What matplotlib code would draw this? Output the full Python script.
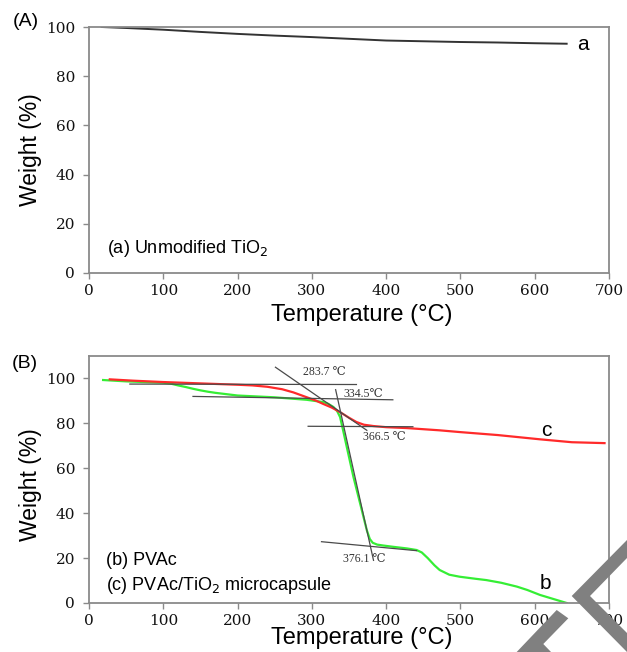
import matplotlib
matplotlib.use("Agg")
import matplotlib.pyplot as plt
from matplotlib.patches import Polygon

# ---------------- data ----------------
temp_a = [17, 50, 100, 150, 200, 250, 300, 350, 400, 450, 500, 550, 600, 643]
weight_a = [100, 99.6, 98.9, 98.0, 97.2, 96.5, 95.9, 95.2, 94.5, 94.2, 93.9, 93.7, 93.4, 93.2]

temp_c = [28, 60, 100, 150, 200, 220, 240, 260, 275, 290, 305, 315, 327, 338, 350, 360,
          370, 383, 400, 428, 472, 500, 550, 607, 650, 694]
weight_c = [99.6, 99.0, 98.4, 97.8, 97.2, 96.9, 96.3, 95.2, 93.8, 92.0, 90.2, 88.7, 87.0,
            85.0, 82.5, 80.6, 79.4, 78.8, 78.3, 77.9, 76.9, 76.1, 74.8, 72.9, 71.6, 71.2]

temp_b = [19, 50, 100, 110, 120, 130, 140, 150, 160, 170, 180, 200, 250, 293, 315, 322,
          329, 334, 338, 342, 347, 356, 365, 374, 378, 382, 388, 396, 410, 428, 441, 448,
          456, 465, 472, 485, 499, 520, 535, 555, 576, 590, 607, 625, 643]
weight_b = [99.3, 98.7, 98.1, 97.7, 96.9, 96.2, 95.4, 94.7, 94.1, 93.6, 93.2, 92.4, 91.6,
            90.5, 89.5, 88.7, 87.3, 85.5, 82.8, 77.0, 69.5, 56.1, 44.3, 32.4, 28.5, 26.8,
            26.0, 25.6, 25.0, 24.3, 23.6, 22.5, 20.0, 16.8, 14.7, 12.6, 11.7, 10.8, 10.2,
            9.0, 7.3, 5.8, 3.6, 1.8, 0.0]

# tangent construction lines: (T1, W1, T2, W2)
tangents = [
    (55, 97.5, 360, 97.3),
    (140, 92.0, 409, 90.5),
    (251, 105.0, 374, 76.9),
    (295, 78.7, 436, 78.5),
    (332, 95.0, 383, 19.0),
    (313, 27.3, 441, 23.3),
]
onset_labels = ["283.7 \u2103", "334.5\u2103", "366.5 \u2103", "376.1 \u2103"]
onset_pos = [(288, 102.7), (342, 92.9), (369, 74.0), (342, 19.5)]

x_ticks = [0, 100, 200, 300, 400, 500, 600, 700]
y_ticks = [0, 20, 40, 60, 80, 100]

# ---------------- figure ----------------
W, H = 627, 652
fig = plt.figure(figsize=(W / 100, H / 100), dpi=100)

sans = ["Liberation Sans", "DejaVu Sans"]
serif_ticks = ["DejaVu Serif"]
serif_ann = ["Liberation Serif", "DejaVu Serif", "DejaVu Sans"]
frame_col = "#8a8a8a"


def px_axes(left, top, right, bottom):
    return [left / W, 1 - bottom / H, (right - left) / W, (bottom - top) / H]


ax1 = fig.add_axes(px_axes(89, 27, 609, 273))
ax2 = fig.add_axes(px_axes(89, 356, 609, 603))

for ax in (ax1, ax2):
    ax.set_xlim(0, 700)
    ax.set_xticks(x_ticks)
    ax.set_yticks(y_ticks)
    for sp in ax.spines.values():
        sp.set_color(frame_col)
        sp.set_linewidth(1.3)
    ax.tick_params(direction="out", length=4, width=1, color=frame_col,
                   labelsize=11, labelcolor="#111111")
    ax.tick_params(axis="x", pad=4)
    ax.tick_params(axis="y", pad=6)
    for lab in ax.get_xticklabels() + ax.get_yticklabels():
        lab.set_family(serif_ticks)

ax1.set_ylim(0, 100)
ax2.set_ylim(0, 110)

# panel A
ax1.plot(temp_a, weight_a, color="#333333", lw=1.4)
ax1.text(665, 93.0, "a", fontsize=15, family=sans, ha="center", va="center")
ax1.text(0.035, 0.10, "(a) Unmodified TiO$_2$", transform=ax1.transAxes,
         fontsize=13, family=sans, ha="left", va="center")

# panel B
ax2.plot(temp_c, weight_c, color="#ff2a2a", lw=1.6, zorder=3)
ax2.plot(temp_b, weight_b, color="#35ee35", lw=1.6, zorder=2)
for (t1, w1, t2, w2) in tangents:
    ax2.plot([t1, t2], [w1, w2], color="#4a4a4a", lw=0.9, zorder=4)
for lab, (t, w) in zip(onset_labels, onset_pos):
    ax2.text(t, w, lab, fontsize=8.5, family=serif_ann, color="#333333",
             ha="left", va="center", zorder=5)
ax2.text(616, 77.0, "c", fontsize=15, family=sans, ha="center", va="center")
ax2.text(614, 8.8, "b", fontsize=15, family=sans, ha="center", va="center")
ax2.text(0.033, 0.171, "(b) PVAc", transform=ax2.transAxes,
         fontsize=13, family=sans, ha="left", va="center")
ax2.text(0.033, 0.069, "(c) PVAc/TiO$_2$ microcapsule", transform=ax2.transAxes,
         fontsize=13, family=sans, ha="left", va="center")

# axis labels
for ax, xl_y, yl_y in ((ax1, -0.170, 0.50), (ax2, -0.143, 0.48)):
    xl = ax.set_xlabel("Temperature (\u00b0C)", fontsize=17, family=sans)
    ax.xaxis.set_label_coords(0.525, xl_y)
    xl.set_va("center")
    yl = ax.set_ylabel("Weight (%)", fontsize=16.5, family=sans)
    ax.yaxis.set_label_coords(-0.113, yl_y)
    yl.set_va("center")

# panel letters
fig.text(26 / W, 1 - 22 / H, "(A)", fontsize=14, family=sans, ha="center", va="center")
fig.text(25 / W, 1 - 363 / H, "(B)", fontsize=14, family=sans, ha="center", va="center")

# grey overlay shapes in the lower-right corner of the reference
def fig_poly(pts):
    return Polygon([(x / W, 1 - y / H) for x, y in pts], closed=True,
                   transform=fig.transFigure, facecolor="#808080",
                   edgecolor="none", zorder=10)

fig.patches.append(fig_poly([(571.7, 596), (627, 540), (627, 558), (590, 596),
                             (627, 633), (627, 652)]))
fig.patches.append(fig_poly([(516.7, 652), (556.7, 610), (568.3, 618.3),
                             (543.3, 644), (551, 652)]))

fig.savefig("out.png", dpi=100)
